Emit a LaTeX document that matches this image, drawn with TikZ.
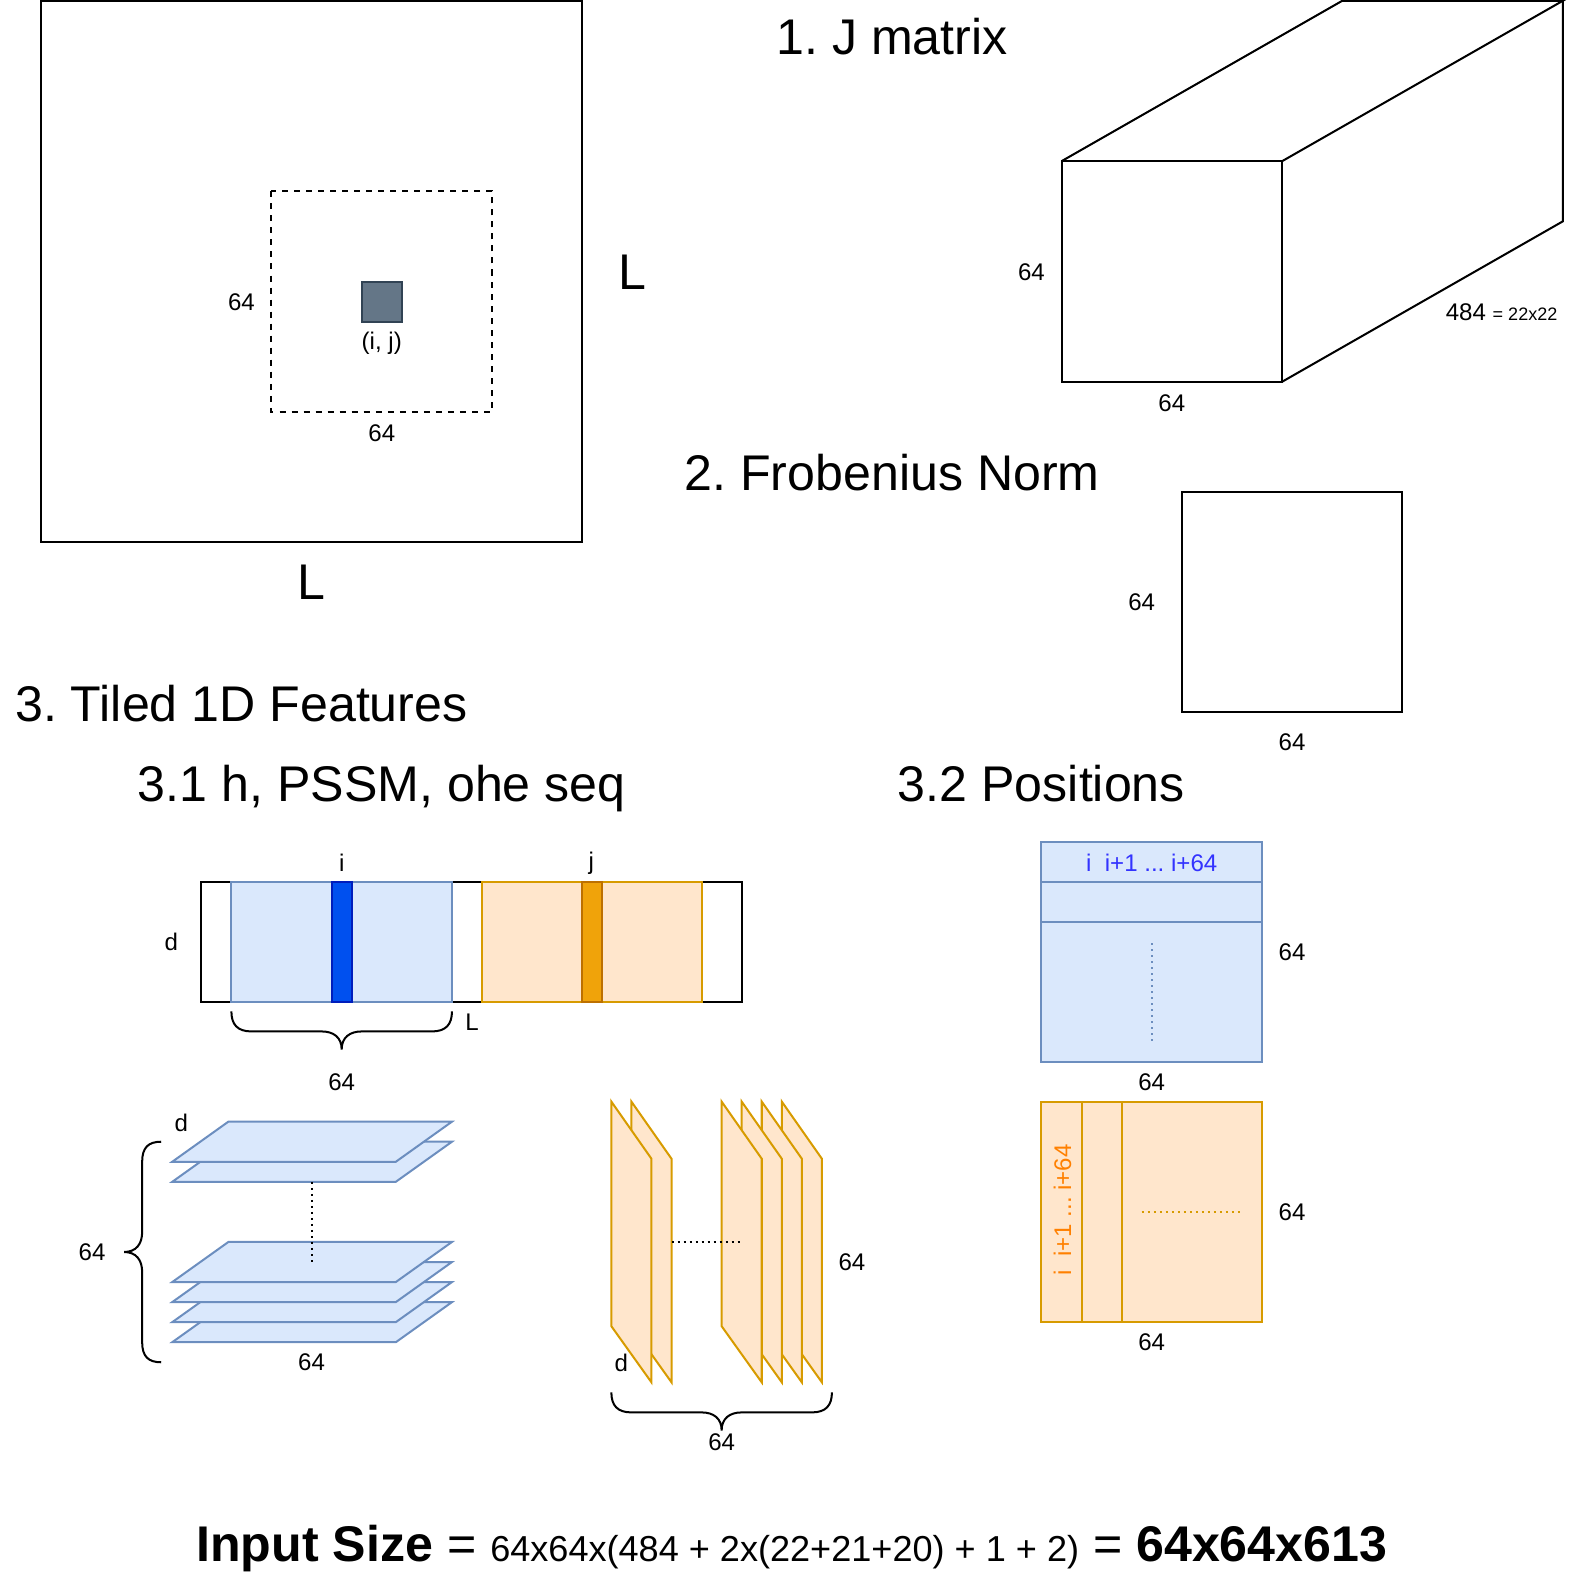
\documentclass[tikz,border=0pt]{standalone}
\usepackage{fontspec}
\setmainfont{Liberation Sans}
\definecolor{blueline}{HTML}{6C8EBF}
\definecolor{bluefill}{HTML}{DAE8FC}
\definecolor{orangeline}{HTML}{D79B00}
\definecolor{orangefill}{HTML}{FFE6CC}
\definecolor{slatefill}{HTML}{647687}
\definecolor{slateline}{HTML}{314354}
\definecolor{deepblueline}{HTML}{001DBC}
\definecolor{deepbluefill}{HTML}{0050EF}
\definecolor{deeporangeline}{HTML}{BD7000}
\definecolor{deeporangefill}{HTML}{F0A30A}
\definecolor{rowtext}{HTML}{3333FF}
\definecolor{coltext}{HTML}{FF8000}
\frenchspacing
\tikzset{
	line/.style={line width=1pt, line join=miter},
	bluebox/.style={line, draw=blueline, fill=bluefill},
	orangebox/.style={line, draw=orangeline, fill=orangefill},
	dimlabel/.style={inner sep=0pt, font=\fontsize{12}{14}\selectfont},
	biglabel/.style={inner sep=0pt, font=\fontsize{25}{29}\selectfont},
}
\begin{document}
\begin{tikzpicture}[x=0.5pt, y=-0.5pt]
	\useasboundingbox (-0.8,-0.8) rectangle (1567.2,1567.2);

	% contact map
	\draw[line]                          (40,  0)   rectangle (580, 540);
	\draw[line, dashed]                  (270, 190) rectangle (490, 410);
	\draw[line, draw=slateline, fill=slatefill] (360, 280) rectangle (400, 320);
	\node[dimlabel] (pairLabel)  at (380, 342) {(i, j)};
	\node[dimlabel] (cropLeft)   at (240, 301) {64};
	\node[dimlabel] (cropBottom) at (380, 431) {64};
	\node[biglabel] (mapRight)   at (630, 271) {L};
	\node[biglabel] (mapBottom)  at (310, 580) {L};

	% J matrix
	\node[biglabel] (jTitle) at (889, 36) {1. J matrix};
	\draw[line] (1058, 160) rectangle (1278, 380);
	\draw[line] (1058, 160) -- (1338, 0) -- (1558, 0) -- (1278, 160);
	\draw[line] (1558, 0) -- (1558, 220) -- (1278, 380);
	\node[dimlabel] (jLeft)   at (1028, 271) {64};
	\node[dimlabel] (jBottom) at (1168, 401) {64};
	\node[dimlabel] (jDepth)  at (1497, 311) {484 {\fontsize{9}{11}\selectfont = 22x22}};

	% Frobenius norm
	\node[biglabel] (normTitle) at (889, 471) {2. Frobenius Norm};
	\draw[line] (1178, 490) rectangle (1397.5, 709.5);
	\node[dimlabel] (normLeft)   at (1138, 600) {64};
	\node[dimlabel] (normBottom) at (1288, 740) {64};

	% tiled features
	\node[biglabel] (tiledTitle) at (240,  701) {3. Tiled 1D Features};
	\node[biglabel] (seqTitle)   at (380,  786) {3.1 h, PSSM, ohe seq};
	\node[biglabel] (posTitle)   at (1038, 781) {3.2 Positions};

	% sequence strip
	\draw[line]                                         (200, 879) rectangle (739.5, 998.5);
	\draw[bluebox]                                      (230, 879) rectangle (450, 998.5);
	\draw[line, draw=deepblueline, fill=deepbluefill]   (330, 879) rectangle (350, 998.5);
	\draw[orangebox]                                    (480, 879) rectangle (699.5, 998.5);
	\draw[line, draw=deeporangeline, fill=deeporangefill] (580, 879) rectangle (599.5, 998.5);
	\node[dimlabel] (stripI) at (340, 860)  {i};
	\node[dimlabel] (stripJ) at (589, 860)  {j};
	\node[dimlabel] (stripD) at (170, 939)  {d};
	\node[dimlabel] (stripL) at (470, 1019) {L};
	\draw[line] (230, 1008) .. controls (230, 1021) and (236, 1028) .. (250, 1028) -- (320, 1028)
		.. controls (332, 1028) and (340, 1034) .. (340, 1046)
		.. controls (340, 1034) and (348, 1028) .. (360, 1028) -- (430, 1028)
		.. controls (444, 1028) and (450, 1021) .. (450, 1008);
	\node[dimlabel] (stripWidth) at (340, 1079) {64};

	% stacked sheets
	\foreach \y in {1338, 1318, 1298, 1278, 1178, 1158}
		\draw[bluebox] (171, \y) -- (227, \y-40) -- (450, \y-40) -- (394, \y) -- cycle;
	\draw[line, dotted] (310, 1178) -- (310, 1258);
	\draw[line] (160, 1138) .. controls (147, 1138) and (141, 1144) .. (141, 1158) -- (141, 1228)
		.. controls (141, 1240) and (135, 1248) .. (123, 1248)
		.. controls (135, 1248) and (141, 1256) .. (141, 1268) -- (141, 1338)
		.. controls (141, 1352) and (147, 1358) .. (160, 1358);
	\node[dimlabel] (sheetD)      at (180, 1119) {d};
	\node[dimlabel] (sheetHeight) at (91,  1248) {64};
	\node[dimlabel] (sheetWidth)  at (310, 1358) {64};

	% standing sheets
	\foreach \x in {779, 759, 739, 719, 629, 609}
		\draw[orangebox] (\x, 1098) -- (\x+40, 1155) -- (\x+40, 1378) -- (\x, 1322) -- cycle;
	\draw[line, dotted] (669, 1238) -- (739, 1238);
	\draw[line] (609, 1388) .. controls (609, 1401) and (615, 1408) .. (629, 1408) -- (699, 1408)
		.. controls (711, 1408) and (719, 1414) .. (719, 1426)
		.. controls (719, 1414) and (727, 1408) .. (739, 1408) -- (809, 1408)
		.. controls (823, 1408) and (829, 1401) .. (829, 1388);
	\node[dimlabel] (standD)      at (619, 1359) {d};
	\node[dimlabel] (standHeight) at (849, 1258) {64};
	\node[dimlabel] (standWidth)  at (719, 1438) {64};

	% position rows
	\draw[bluebox] (1038, 839) rectangle (1258, 1058);
	\draw[bluebox] (1038, 879) -- (1258, 879);
	\draw[bluebox] (1038, 919) -- (1258, 919);
	\draw[line, draw=blueline, dotted] (1148, 940) -- (1148, 1038);
	\node[dimlabel, text=rowtext] (rowText) at (1148, 860) {i\ \ i+1 ... i+64};
	\node[dimlabel] (rowRight)  at (1288, 949)  {64};
	\node[dimlabel] (rowBottom) at (1148, 1079) {64};

	% position columns
	\draw[orangebox] (1038, 1098) rectangle (1258, 1318);
	\draw[orangebox] (1078, 1098) -- (1078, 1318);
	\draw[orangebox] (1118, 1098) -- (1118, 1318);
	\draw[line, draw=orangeline, dotted] (1138, 1208) -- (1238, 1208);
	\node[dimlabel, text=coltext, rotate=90] (colText) at (1059, 1206) {i\ \ i+1 ... i+64};
	\node[dimlabel] (colRight)  at (1288, 1208) {64};
	\node[dimlabel] (colBottom) at (1148, 1338) {64};

	% total
	\node[inner sep=0pt, font=\fontsize{25}{29}\selectfont] (inputSize) at (789, 1544)
		{\textbf{Input Size} = {\fontsize{18}{22}\selectfont 64x64x(484 + 2x(22+21+20) + 1 + 2)} = \textbf{64x64x613}};
\end{tikzpicture}
\end{document}
